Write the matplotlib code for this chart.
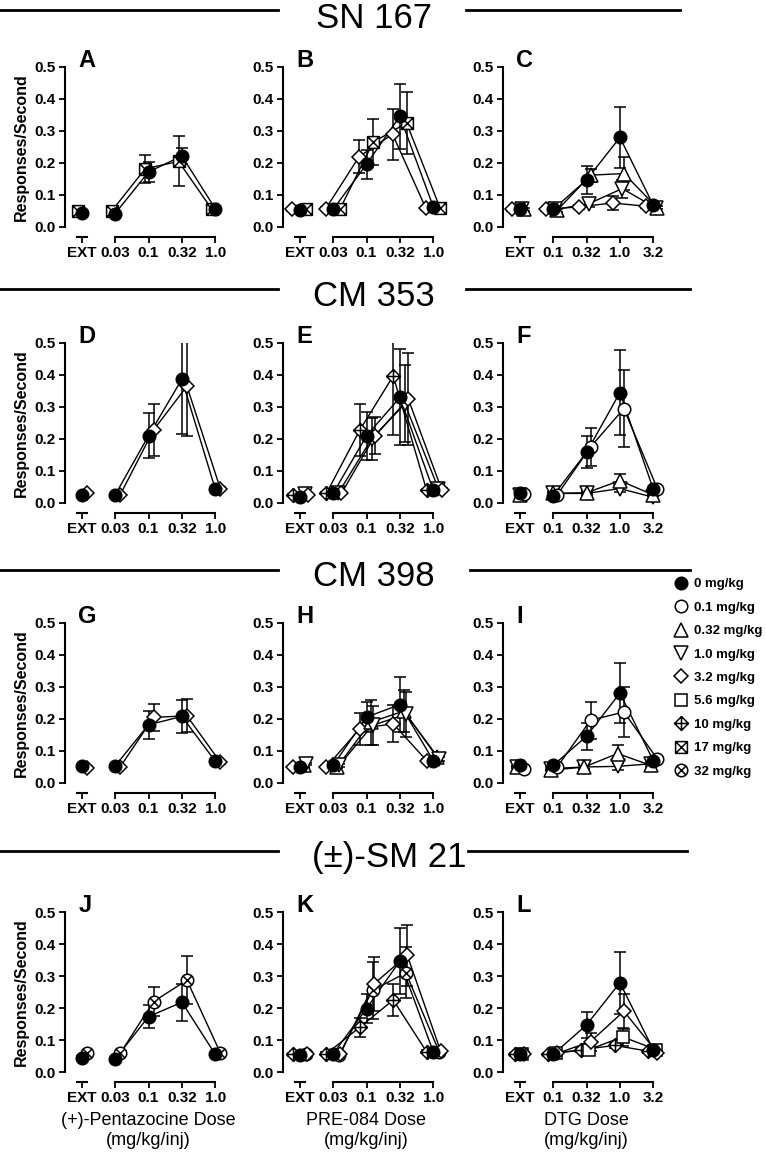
import numpy as np
import matplotlib.pyplot as plt
import matplotlib.transforms as mtransforms
from matplotlib.lines import Line2D
from matplotlib.path import Path

plt.rcParams['font.family'] = ['Liberation Sans Narrow', 'Liberation Sans', 'DejaVu Sans']

# tick labels for the three agonists
pentazocine_doses = ['EXT', '0.03', '0.1', '0.32', '1.0']
pre084_doses = ['EXT', '0.03', '0.1', '0.32', '1.0']
dtg_doses = ['EXT', '0.1', '0.32', '1.0', '3.2']

antagonists = ['SN 167', 'CM 353', 'CM 398', '(±)-SM 21']
dose_titles = ['(+)-Pentazocine Dose\n(mg/kg/inj)', 'PRE-084 Dose\n(mg/kg/inj)', 'DTG Dose\n(mg/kg/inj)']
pretreatments = ['0 mg/kg', '0.1 mg/kg', '0.32 mg/kg', '1.0 mg/kg', '3.2 mg/kg',
                 '5.6 mg/kg', '10 mg/kg', '17 mg/kg', '32 mg/kg']

# responses/second (mean) and SEM
# SN 167
A_0 = [0.045, 0.042, 0.172, 0.222, 0.057]
A_0_sem = [0.004, 0.004, 0.032, 0.024, 0.005]
A_17 = [0.050, 0.050, 0.182, 0.205, 0.055]
A_17_sem = [0.004, 0.004, 0.043, 0.078, 0.005]

B_0 = [0.053, 0.055, 0.196, 0.346, 0.063]
B_0_sem = [0.004, 0.004, 0.045, 0.102, 0.006]
B_3_2 = [0.055, 0.057, 0.220, 0.290, 0.058]
B_3_2_sem = [0.004, 0.004, 0.052, 0.080, 0.005]
B_17 = [0.055, 0.055, 0.265, 0.325, 0.060]
B_17_sem = [0.004, 0.004, 0.072, 0.098, 0.005]

C_0 = [0.055, 0.055, 0.147, 0.280, 0.068]
C_0_sem = [0.004, 0.004, 0.045, 0.095, 0.006]
C_0_32 = [0.055, 0.052, 0.162, 0.167, 0.060]
C_0_32_sem = [0.004, 0.004, 0.020, 0.052, 0.005]
C_1_0 = [0.055, 0.055, 0.073, 0.120, 0.060]
C_1_0_sem = [0.004, 0.004, 0.010, 0.028, 0.005]
C_3_2 = [0.055, 0.055, 0.063, 0.075, 0.065]
C_3_2_sem = [0.004, 0.004, 0.006, 0.022, 0.005]

# CM 353
D_0 = [0.025, 0.025, 0.210, 0.387, 0.043]
D_0_sem = [0.003, 0.003, 0.070, 0.172, 0.004]
D_3_2 = [0.030, 0.025, 0.228, 0.365, 0.045]
D_3_2_sem = [0.003, 0.003, 0.080, 0.157, 0.004]

E_0 = [0.020, 0.030, 0.210, 0.330, 0.040]
E_0_sem = [0.003, 0.003, 0.075, 0.150, 0.004]
E_10 = [0.025, 0.030, 0.228, 0.397, 0.040]
E_10_sem = [0.003, 0.003, 0.080, 0.185, 0.004]
E_1_0 = [0.028, 0.030, 0.200, 0.310, 0.045]
E_1_0_sem = [0.003, 0.003, 0.065, 0.120, 0.004]
E_3_2 = [0.025, 0.030, 0.210, 0.325, 0.042]
E_3_2_sem = [0.003, 0.003, 0.058, 0.145, 0.004]

F_0 = [0.030, 0.023, 0.158, 0.345, 0.043]
F_0_sem = [0.003, 0.003, 0.050, 0.132, 0.004]
F_0_1 = [0.027, 0.025, 0.175, 0.295, 0.045]
F_0_1_sem = [0.003, 0.003, 0.058, 0.120, 0.004]
F_0_32 = [0.025, 0.030, 0.032, 0.070, 0.025]
F_0_32_sem = [0.003, 0.003, 0.005, 0.020, 0.004]
F_1_0 = [0.025, 0.030, 0.030, 0.045, 0.018]
F_1_0_sem = [0.003, 0.003, 0.005, 0.010, 0.004]

# CM 398
G_0 = [0.052, 0.053, 0.182, 0.208, 0.068]
G_0_sem = [0.004, 0.004, 0.044, 0.052, 0.005]
G_3_2 = [0.048, 0.050, 0.205, 0.210, 0.065]
G_3_2_sem = [0.004, 0.004, 0.042, 0.052, 0.005]

H_0 = [0.050, 0.055, 0.206, 0.245, 0.070]
H_0_sem = [0.004, 0.004, 0.047, 0.085, 0.005]
H_3_2 = [0.050, 0.050, 0.170, 0.185, 0.070]
H_3_2_sem = [0.004, 0.004, 0.050, 0.058, 0.005]
H_0_32 = [0.055, 0.050, 0.190, 0.225, 0.080]
H_0_32_sem = [0.004, 0.004, 0.070, 0.065, 0.005]
H_1_0 = [0.060, 0.055, 0.180, 0.215, 0.075]
H_1_0_sem = [0.004, 0.004, 0.060, 0.070, 0.005]

I_0 = [0.055, 0.055, 0.146, 0.281, 0.070]
I_0_sem = [0.004, 0.004, 0.042, 0.095, 0.005]
I_0_1 = [0.045, 0.050, 0.196, 0.222, 0.075]
I_0_1_sem = [0.004, 0.004, 0.058, 0.078, 0.005]
I_0_32 = [0.050, 0.040, 0.050, 0.092, 0.055]
I_0_32_sem = [0.004, 0.004, 0.006, 0.028, 0.005]
I_1_0 = [0.050, 0.045, 0.050, 0.052, 0.060]
I_1_0_sem = [0.004, 0.004, 0.006, 0.010, 0.005]

# (±)-SM 21
J_0 = [0.045, 0.040, 0.173, 0.218, 0.055]
J_0_sem = [0.004, 0.004, 0.035, 0.058, 0.005]
J_32 = [0.058, 0.058, 0.220, 0.287, 0.060]
J_32_sem = [0.004, 0.004, 0.045, 0.075, 0.005]

K_0 = [0.053, 0.057, 0.198, 0.347, 0.063]
K_0_sem = [0.004, 0.004, 0.045, 0.102, 0.005]
K_10 = [0.055, 0.057, 0.140, 0.225, 0.063]
K_10_sem = [0.004, 0.004, 0.030, 0.050, 0.005]
K_32 = [0.055, 0.053, 0.255, 0.310, 0.062]
K_32_sem = [0.004, 0.004, 0.090, 0.080, 0.005]
K_3_2 = [0.057, 0.057, 0.275, 0.365, 0.065]
K_3_2_sem = [0.004, 0.004, 0.085, 0.095, 0.005]

L_0 = [0.055, 0.055, 0.147, 0.279, 0.070]
L_0_sem = [0.004, 0.004, 0.040, 0.097, 0.005]
L_10 = [0.055, 0.055, 0.070, 0.083, 0.065]
L_10_sem = [0.004, 0.004, 0.006, 0.008, 0.005]
L_5_6 = [0.055, 0.060, 0.070, 0.110, 0.070]
L_5_6_sem = [0.004, 0.004, 0.010, 0.028, 0.005]
L_3_2 = [0.057, 0.058, 0.095, 0.190, 0.060]
L_3_2_sem = [0.004, 0.004, 0.028, 0.055, 0.005]

# panel -> (dose labels, [(pretreatment, mean, sem, x-offset)]) ; vehicle last so it sits on top
panels = {
    'A': (pentazocine_doses, [('17 mg/kg', A_17, A_17_sem, -0.1), ('0 mg/kg', A_0, A_0_sem, 0)]),
    'B': (pre084_doses, [('3.2 mg/kg', B_3_2, B_3_2_sem, -0.22), ('17 mg/kg', B_17, B_17_sem, 0.2),
                         ('0 mg/kg', B_0, B_0_sem, 0)]),
    'C': (dtg_doses, [('3.2 mg/kg', C_3_2, C_3_2_sem, -0.22), ('1.0 mg/kg', C_1_0, C_1_0_sem, 0.07),
                      ('0.32 mg/kg', C_0_32, C_0_32_sem, 0.12), ('0 mg/kg', C_0, C_0_sem, 0)]),
    'D': (pentazocine_doses, [('3.2 mg/kg', D_3_2, D_3_2_sem, 0.15), ('0 mg/kg', D_0, D_0_sem, 0)]),
    'E': (pre084_doses, [('10 mg/kg', E_10, E_10_sem, -0.2), ('1.0 mg/kg', E_1_0, E_1_0_sem, 0.15),
                         ('3.2 mg/kg', E_3_2, E_3_2_sem, 0.25), ('0 mg/kg', E_0, E_0_sem, 0)]),
    'F': (dtg_doses, [('1.0 mg/kg', F_1_0, F_1_0_sem, 0.0), ('0.32 mg/kg', F_0_32, F_0_32_sem, 0.0),
                      ('0.1 mg/kg', F_0_1, F_0_1_sem, 0.12), ('0 mg/kg', F_0, F_0_sem, 0)]),
    'G': (pentazocine_doses, [('3.2 mg/kg', G_3_2, G_3_2_sem, 0.15), ('0 mg/kg', G_0, G_0_sem, 0)]),
    'H': (pre084_doses, [('3.2 mg/kg', H_3_2, H_3_2_sem, -0.2), ('0.32 mg/kg', H_0_32, H_0_32_sem, 0.12),
                         ('1.0 mg/kg', H_1_0, H_1_0_sem, 0.18), ('0 mg/kg', H_0, H_0_sem, 0)]),
    'I': (dtg_doses, [('1.0 mg/kg', I_1_0, I_1_0_sem, -0.07), ('0.32 mg/kg', I_0_32, I_0_32_sem, -0.07),
                      ('0.1 mg/kg', I_0_1, I_0_1_sem, 0.12), ('0 mg/kg', I_0, I_0_sem, 0)]),
    'J': (pentazocine_doses, [('32 mg/kg', J_32, J_32_sem, 0.15), ('0 mg/kg', J_0, J_0_sem, 0)]),
    'K': (pre084_doses, [('10 mg/kg', K_10, K_10_sem, -0.2), ('32 mg/kg', K_32, K_32_sem, 0.18),
                         ('3.2 mg/kg', K_3_2, K_3_2_sem, 0.22), ('0 mg/kg', K_0, K_0_sem, 0)]),
    'L': (dtg_doses, [('10 mg/kg', L_10, L_10_sem, -0.15), ('5.6 mg/kg', L_5_6, L_5_6_sem, 0.08),
                      ('3.2 mg/kg', L_3_2, L_3_2_sem, 0.12), ('0 mg/kg', L_0, L_0_sem, 0)]),
}


# marker shapes for the crossed symbols
def diamond_plus():
    v = [(0, 1), (1, 0), (0, -1), (-1, 0), (0, 1), (0, 1), (0, -1), (-1, 0), (1, 0)]
    c = [Path.MOVETO, Path.LINETO, Path.LINETO, Path.LINETO, Path.CLOSEPOLY,
         Path.MOVETO, Path.LINETO, Path.MOVETO, Path.LINETO]
    return Path(v, c)


def square_x():
    v = [(-1, -1), (1, -1), (1, 1), (-1, 1), (-1, -1), (-1, -1), (1, 1), (-1, 1), (1, -1)]
    c = [Path.MOVETO, Path.LINETO, Path.LINETO, Path.LINETO, Path.CLOSEPOLY,
         Path.MOVETO, Path.LINETO, Path.MOVETO, Path.LINETO]
    return Path(v, c)


def circle_x():
    d = 0.7071
    cross = Path([(-d, -d), (d, d), (-d, d), (d, -d)],
                 [Path.MOVETO, Path.LINETO, Path.MOVETO, Path.LINETO])
    return Path.make_compound_path(Path.unit_circle(), cross)


styles = {
    '0 mg/kg': dict(marker='o', mfc='black', ms=9),
    '0.1 mg/kg': dict(marker='o', mfc='white', ms=9),
    '0.32 mg/kg': dict(marker='^', mfc='white', ms=9.5),
    '1.0 mg/kg': dict(marker='v', mfc='white', ms=9.5),
    '3.2 mg/kg': dict(marker='D', mfc='white', ms=7),
    '5.6 mg/kg': dict(marker='s', mfc='white', ms=8.5),
    '10 mg/kg': dict(marker=diamond_plus(), mfc='white', ms=10),
    '17 mg/kg': dict(marker=square_x(), mfc='white', ms=8.5),
    '32 mg/kg': dict(marker=circle_x(), mfc='white', ms=9),
}

fig = plt.figure(figsize=(7.66, 11.53), dpi=100)
W, H = 766.0, 1153.0
col_left = [65, 283, 503]
row_zero = [227, 503, 783, 1072]
ax_w, ax_h = 167, 160
x_pos = np.arange(5)

letters = 'ABCDEFGHIJKL'
for k, letter in enumerate(letters):
    r, c = divmod(k, 3)
    ax = fig.add_axes([col_left[c] / W, 1 - row_zero[r] / H, ax_w / W, ax_h / H])
    doses, series = panels[letter]
    for name, mean, sem, off in series:
        st = styles[name]
        xs = x_pos + off
        ax.errorbar(xs, mean, yerr=sem, fmt='none', ecolor='black', elinewidth=1.1,
                    capsize=4, capthick=1.1, zorder=2)
        ax.plot(xs[1:], mean[1:], '-', color='black', lw=1.0, zorder=2)
        ax.plot(xs, mean, ls='none', marker=st['marker'], mfc=st['mfc'], mec='black',
                mew=1.1, ms=st['ms'], clip_on=False, zorder=3)

    ax.set_xlim(-0.5, 4.5)
    ax.set_ylim(0, 0.5)
    ax.set_yticks([0, 0.1, 0.2, 0.3, 0.4, 0.5])
    ax.set_yticklabels(['0.0', '0.1', '0.2', '0.3', '0.4', '0.5'])
    ax.set_xticks(x_pos)
    ax.set_xticklabels(doses)
    for s in ['top', 'right']:
        ax.spines[s].set_visible(False)
    ax.spines['left'].set_linewidth(1.5)
    ax.spines['bottom'].set_linewidth(1.5)
    ax.spines['bottom'].set_position(('outward', 7))
    ax.spines['bottom'].set_bounds(1, 4)
    ax.tick_params(direction='out', length=4, width=1.3, labelsize=11, pad=3)
    for lab in ax.get_xticklabels() + ax.get_yticklabels():
        lab.set_fontweight('bold')
    # short segment of the broken x axis under EXT
    seg = ax.get_xaxis_transform() + mtransforms.ScaledTranslation(0, -7 / 72, fig.dpi_scale_trans)
    ax.add_line(Line2D([-0.15, 0.15], [0, 0], transform=seg, color='black', lw=1.5, clip_on=False))

    ax.text(0.08, 1.0, letter, transform=ax.transAxes, ha='left', va='baseline',
            fontsize=17, fontweight='bold')
    if c == 0:
        ax.set_ylabel('Responses/Second', fontsize=11.5, fontweight='bold', labelpad=4)
    if r == 3:
        ax.set_xlabel(dose_titles[c], fontsize=13, linespacing=1.2, labelpad=5)

# antagonist headers with rules
header_y = [18, 296, 577, 858]
rule_y = [10, 289, 570, 851]
rule_right = [(466, 680), (466, 690), (470, 690), (468, 687)]
for i, name in enumerate(antagonists):
    cx = 374 if i < 3 else 389
    fig.text(cx / W, 1 - header_y[i] / H, name, ha='center', va='center', fontsize=25)
    y = 1 - rule_y[i] / H
    fig.add_artist(Line2D([0, 278 / W], [y, y], transform=fig.transFigure, color='black', lw=2))
    x0, x1 = rule_right[i]
    fig.add_artist(Line2D([x0 / W, x1 / W], [y, y], transform=fig.transFigure, color='black', lw=2))

handles = [Line2D([], [], ls='none', marker=styles[p]['marker'], mfc=styles[p]['mfc'],
                  mec='black', mew=1.1, ms=styles[p]['ms']) for p in pretreatments]
fig.legend(handles, pretreatments, loc='upper left', bbox_to_anchor=(674 / W, 1 - 578 / H),
           frameon=False, handlelength=1.0, handletextpad=0.5, labelspacing=0.85,
           borderaxespad=0, borderpad=0, prop={'size': 9.5, 'weight': 'bold'})

fig.savefig('out.png', dpi=100)
